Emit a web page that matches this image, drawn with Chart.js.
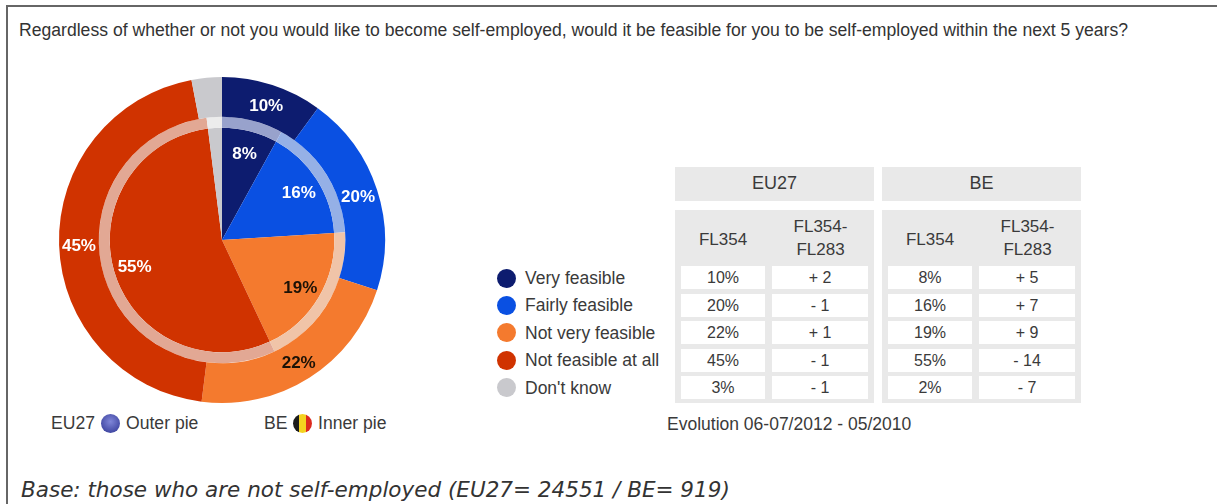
<!DOCTYPE html>
<html lang="en">
<head>
<meta charset="utf-8">
<title>Feasibility of self-employment</title>
<script src="https://cdn.jsdelivr.net/npm/chart.js@4"></script>
<style>
  html, body { margin: 0; padding: 0; background: #fff; }
  body { width: 1217px; height: 504px; position: relative; overflow: hidden;
         font-family: "Liberation Sans", Arial, sans-serif; color: #3a3a3a; }
  .frame { position: absolute; left: 6px; top: 5px; width: 1209px; height: 520px;
           border: 2px solid #666; box-sizing: content-box; }
  .txt { position: absolute; white-space: nowrap; line-height: 1; }
  #title { left: 19px; top: 22px; font-size: 17.6px; color: #333; }
  #base { left: 21px; top: 477px; font: italic 21.5px "DejaVu Sans", sans-serif; color: #333; }
  #evolution { left: 667px; top: 416px; font-size: 17.5px; }
  #pie { position: absolute; left: 52px; top: 70px; width: 340px; height: 340px; }
  .dot { position: absolute; width: 19px; height: 19px; border-radius: 50%; }
  .box { position: absolute; background: #e9e9e9; }
  .cell { position: absolute; background: #fff; text-align: center; font-size: 16px; line-height: 23px; }
  .head { position: absolute; text-align: center; font-size: 17px; line-height: 23px; }
  .low { font-size: 17.6px; }
</style>
</head>
<body>
<div class="frame"></div>
<div class="txt" id="title">Regardless of whether or not you would like to become self-employed, would it be feasible for you to be self-employed within the next 5 years?</div>
<canvas id="pie" width="340" height="340"></canvas>
<div id="legend"></div>
<div id="table"></div>
<div class="txt" id="evolution">Evolution 06-07/2012 - 05/2010</div>
<div class="txt low" style="left:51px;top:415px">EU27</div>
<div class="dot" style="left:101px;top:414px;background:radial-gradient(circle at 50% 40%,#7f86d8,#2c3391)"></div>
<div class="txt low" style="left:126px;top:415px">Outer pie</div>
<div class="txt low" style="left:264px;top:415px">BE</div>
<div class="dot" style="left:293px;top:414px;background:linear-gradient(90deg,#1c1c1c 33%,#f4d21f 33%,#f4d21f 67%,#dc2a1e 67%)"></div>
<div class="txt low" style="left:318px;top:415px">Inner pie</div>
<div class="txt" id="base">Base: those who are not self-employed (EU27= 24551 / BE= 919)</div>

<script>
var categories = ['Very feasible', 'Fairly feasible', 'Not very feasible', 'Not feasible at all', "Don't know"];
var euValues = [10, 20, 22, 45, 3];
var beValues = [8, 16, 19, 55, 2];
var euEvolution = ['+ 2', '- 1', '+ 1', '- 1', '- 1'];
var beEvolution = ['+ 5', '+ 7', '+ 9', '- 14', '- 7'];
var colors = ['#0d1c6f', '#0a50e2', '#f47a2e', '#d03300', '#c9c9cd'];
var ringColors = ['#98a2cc', '#95b0e6', '#f0c4a8', '#e2a894', '#ececec'];
var labelColors = ['#fff', '#fff', '#1c1206', '#fff', null];

// slice labels sit at a fixed share of each ring's radius, on the slice's mid angle
var sliceLabels = {
  id: 'sliceLabels',
  afterDatasetsDraw: function (chart) {
    var ctx = chart.ctx;
    ctx.save();
    ctx.font = 'bold 17px "Liberation Sans", Arial, sans-serif';
    ctx.textAlign = 'center';
    ctx.textBaseline = 'middle';
    chart.data.datasets.forEach(function (ds, i) {
      if (!ds.showLabels) return;
      chart.getDatasetMeta(i).data.forEach(function (arc, j) {
        if (ds.data[j] < 5) return;
        var p = arc.getProps(['x', 'y', 'startAngle', 'endAngle', 'innerRadius', 'outerRadius']);
        var mid = (p.startAngle + p.endAngle) / 2;
        var r = p.innerRadius + (p.outerRadius - p.innerRadius) * ds.labelAt;
        ctx.fillStyle = labelColors[j];
        ctx.fillText(ds.data[j] + '%', p.x + Math.cos(mid) * r, p.y + Math.sin(mid) * r + 2);
      });
    });
    ctx.restore();
  }
};

new Chart(document.getElementById('pie'), {
  type: 'doughnut',
  data: {
    labels: categories,
    datasets: [
      { label: 'EU27', data: euValues, backgroundColor: colors, weight: 40, showLabels: true, labelAt: 0.5 },
      { label: 'BE ring', data: beValues, backgroundColor: ringColors, weight: 11 },
      { label: 'BE', data: beValues, backgroundColor: colors, weight: 113, showLabels: true, labelAt: 0.81 }
    ]
  },
  options: {
    responsive: false,
    animation: false,
    cutout: 0,
    layout: { padding: 7 },
    elements: { arc: { borderWidth: 0 } },
    plugins: { legend: { display: false }, tooltip: { enabled: false } }
  },
  plugins: [sliceLabels]
});

function add(parent, cls, left, top, width, height, text) {
  var el = document.createElement('div');
  el.className = cls;
  el.style.cssText = 'left:' + left + 'px;top:' + top + 'px;' +
    (width ? 'width:' + width + 'px;' : '') + (height ? 'height:' + height + 'px;' : '');
  if (text) el.innerHTML = text;
  parent.appendChild(el);
  return el;
}

// legend
var legend = document.getElementById('legend');
categories.forEach(function (name, i) {
  var y = 278 + i * 27.4;
  add(legend, 'dot', 497, Math.round(y - 9.5)).style.background = colors[i];
  var t = add(legend, 'txt', 525, Math.round(y - 8), 0, 0, name);
  t.style.fontSize = '17.5px';
});

// comparison table, one block per area
var table = document.getElementById('table');
var blocks = [
  { name: 'EU27', left: 675, values: euValues, evolution: euEvolution },
  { name: 'BE', left: 882, values: beValues, evolution: beEvolution }
];
blocks.forEach(function (b) {
  add(table, 'box', b.left, 167, 199, 34);
  add(table, 'head', b.left, 172, 199, 23, b.name).style.fontSize = '18px';
  add(table, 'box', b.left, 210, 199, 193);
  add(table, 'head', b.left + 6, 228, 84, 23, 'FL354');
  add(table, 'head', b.left + 98, 215, 95, 46, 'FL354-<br>FL283');
  categories.forEach(function (c, i) {
    var y = Math.round(266 + i * 27.5);
    add(table, 'cell', b.left + 6, y, 84, 23, b.values[i] + '%');
    add(table, 'cell', b.left + 97, y, 96, 23, b.evolution[i]);
  });
});
</script>
</body>
</html>
